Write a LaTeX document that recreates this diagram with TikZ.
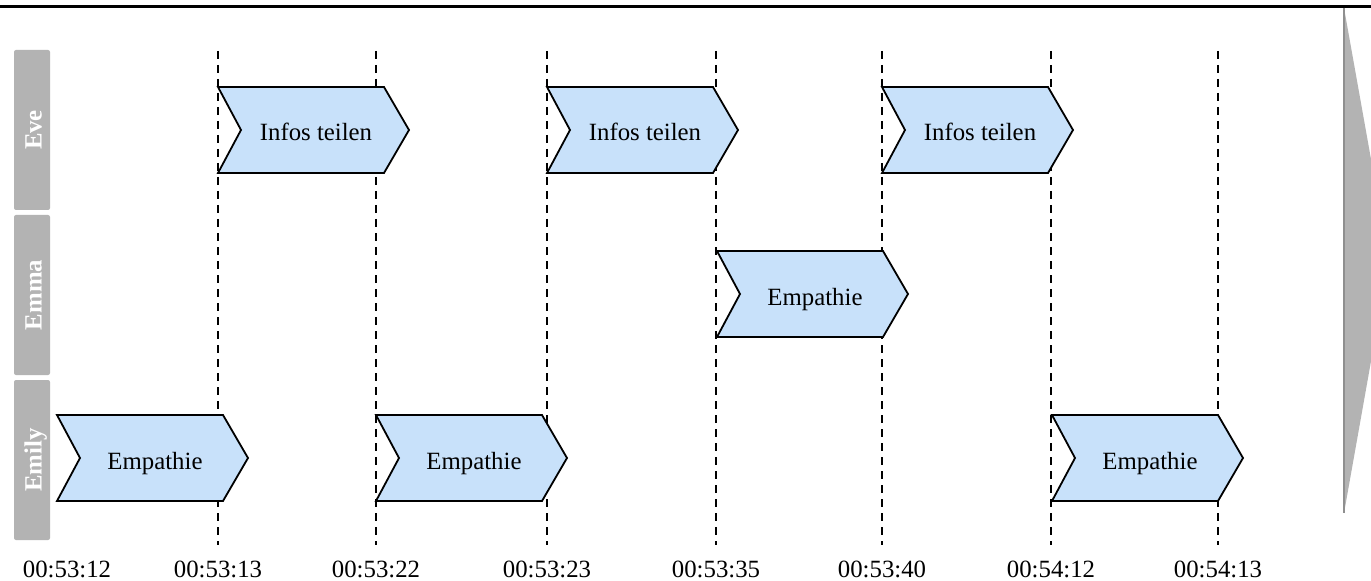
\documentclass[tikz,border=0pt]{standalone}
\usepackage{fontspec}
\setmainfont{Liberation Serif}
\definecolor{chevblue}{HTML}{C8E1FA}
\definecolor{lanegray}{HTML}{B3B3B3}
\definecolor{edgegray}{HTML}{8F8F8F}
% chevron step: name, left x, centre y, text
\newcommand\chevstep[4]{%
  \draw[chev] (#2,#3-43) -- ++(166,0) -- ++(25,43) -- ++(-25,43) -- ++(-166,0) -- ++(23,-43) -- cycle;
  \node[chevtext] (#1) at (#2+98,#3+11) {#4};}
\begin{document}
\begin{tikzpicture}[x=0.75pt,y=-0.75pt,
  lane/.style={fill=lanegray, rounded corners=1.5pt},
  lanelabel/.style={text=white, font=\fontsize{18.6}{20}\selectfont\bfseries, rotate=90, anchor=base, inner sep=0pt},
  chev/.style={draw=black, line width=1.35pt, fill=chevblue, line join=miter},
  chevtext/.style={font=\fontsize{18.6}{20}\selectfont, anchor=base, inner sep=0pt},
  tick/.style={line width=1.4pt, dash pattern=on 6pt off 4.5pt},
  timelabel/.style={font=\fontsize{18.6}{20}\selectfont, anchor=base, inner sep=0pt}]
\useasboundingbox (0,0) rectangle (1371,581);
\fill[white] (0,0) rectangle (1371,581);

% header rule
\draw[line width=2.3pt] (0,6.5) -- (1371,6.5);

% time direction arrow on the right
\begin{scope}
  \clip (0,0) rectangle (1371,581);
  \fill[lanegray] (1344,8) -- (1389,260) -- (1344,513) -- cycle;
  \draw[edgegray, line width=0.8pt] (1344,8) -- (1344,513);
\end{scope}

% lane headers
\fill[lane] (14,50) rectangle (50,210);
\fill[lane] (14,215) rectangle (50,375);
\fill[lane] (14,380) rectangle (50,540);
\node[lanelabel] (eve) at (41.5,130) {Eve};
\node[lanelabel] (emma) at (41.5,295) {Emma};
\node[lanelabel] (emily) at (41.5,460) {Emily};

% time markers
\foreach \x in {218,376,547,716,882,1051,1218}
  \draw[tick] (\x,51) -- (\x,545);

% steps
\chevstep{eveA}{218}{130}{Infos teilen}
\chevstep{eveB}{547}{130}{Infos teilen}
\chevstep{eveC}{882}{130}{Infos teilen}
\chevstep{emmaA}{717}{294}{Empathie}
\chevstep{emilyA}{57}{458}{Empathie}
\chevstep{emilyB}{376}{458}{Empathie}
\chevstep{emilyC}{1052}{458}{Empathie}

% time labels
\node[timelabel] (t1) at (67,577) {00:53:12};
\node[timelabel] (t2) at (218,577) {00:53:13};
\node[timelabel] (t3) at (376,577) {00:53:22};
\node[timelabel] (t4) at (547,577) {00:53:23};
\node[timelabel] (t5) at (716,577) {00:53:35};
\node[timelabel] (t6) at (882,577) {00:53:40};
\node[timelabel] (t7) at (1051,577) {00:54:12};
\node[timelabel] (t8) at (1218,577) {00:54:13};
\end{tikzpicture}
\end{document}
